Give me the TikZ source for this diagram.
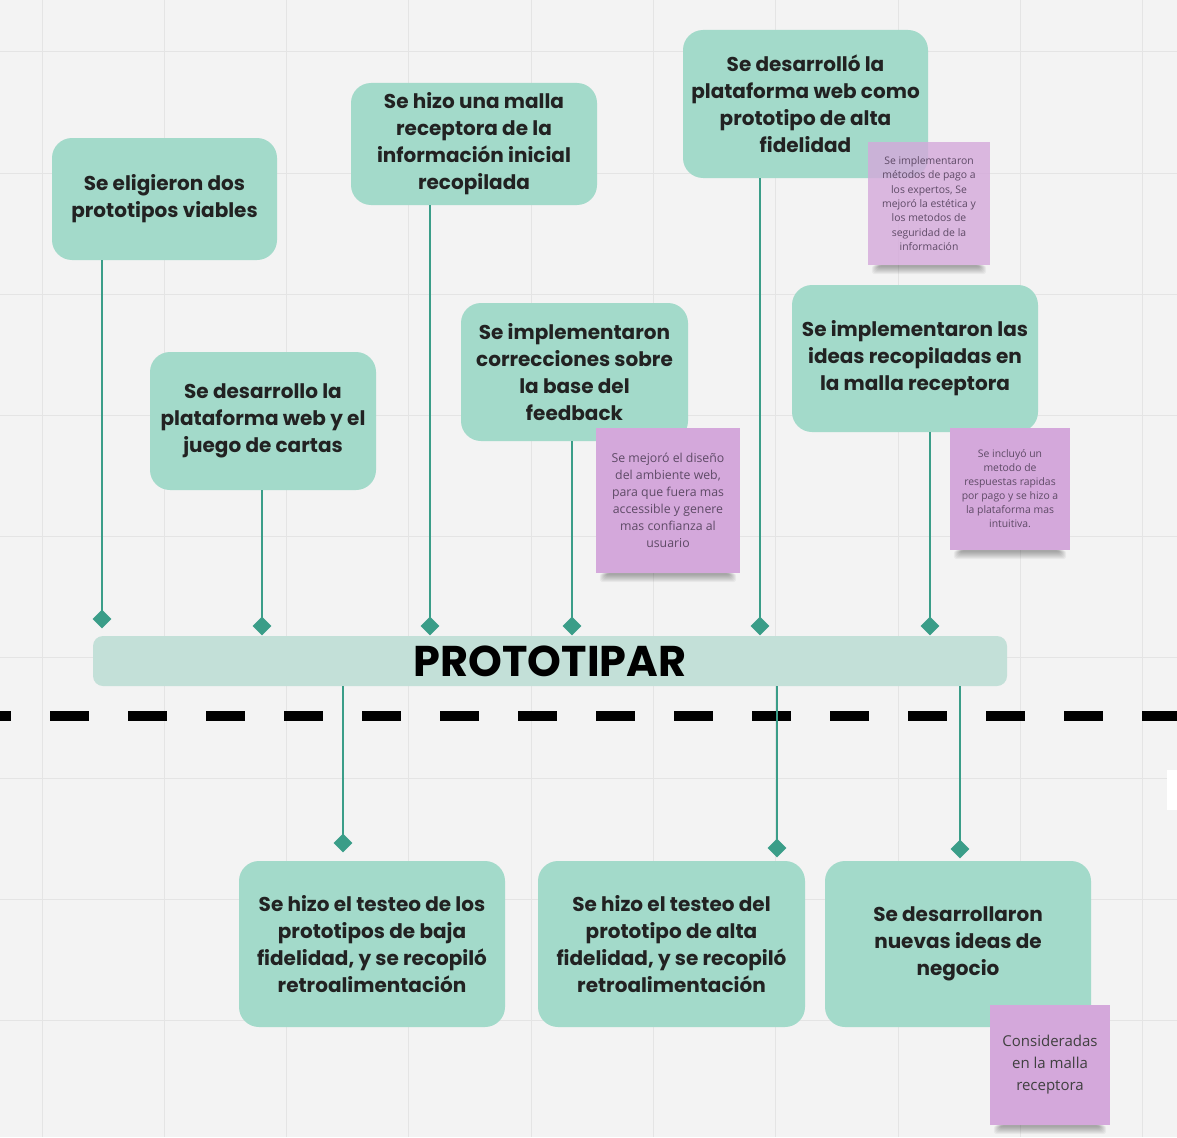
\documentclass[tikz,border=0pt]{standalone}
\usepackage{fontspec}
\setmainfont{Poppins}
\newfontfamily\notefont{Open Sans}
\usetikzlibrary{shapes.geometric}
\pgfdeclarelayer{bglayer}
\pgfdeclarelayer{shadowlayer}
\pgfsetlayers{bglayer,shadowlayer,main}
\definecolor{bgc}{HTML}{F3F3F3}
\definecolor{gridc}{HTML}{E4E4E4}
\definecolor{tealbox}{HTML}{A3DACA}
\definecolor{barc}{HTML}{C3E0D8}
\definecolor{linec}{HTML}{3A9D88}
\definecolor{notec}{HTML}{D4A8DB}
\definecolor{notetext}{HTML}{5E4A66}
\definecolor{boxtext}{HTML}{222222}
\tikzset{
  tbox/.style={fill=tealbox, rounded corners=20pt, align=center, text=boxtext,
    font=\fontsize{20}{27}\selectfont\bfseries, inner sep=0pt},
  note/.style={fill=notec, align=center, text=notetext, inner sep=0pt},
  dia/.style={diamond, fill=linec, minimum width=19pt, minimum height=19pt, inner sep=0pt},
  conn/.style={draw=linec, line width=2pt},
}
\newcommand\mynoteshadow[1]{%
  \begin{pgfonlayer}{shadowlayer}
  \foreach \k in {1,...,8}
    \fill[black, opacity=0.045, rounded corners=3pt]
      ([xshift={(3+\k)*1pt}, yshift=0pt]#1.south west) rectangle
      ([xshift={-(3+\k)*1pt}, yshift={-(10-\k)*1pt}]#1.south east);
  \end{pgfonlayer}}
\begin{document}
\begin{tikzpicture}[x=1pt,y=-1pt]
\useasboundingbox (0,0) rectangle (1177,1137);
\begin{pgfonlayer}{bglayer}
\fill[bgc] (0,0) rectangle (1177,1137);
\foreach \gx in {42,164.3,286.6,408.9,531.2,653.5,775.8,898.1,1020.4,1142.7}
  \draw[gridc, line width=1pt] (\gx,0) -- (\gx,1137);
\foreach \gy in {52,173,294,415,536,657,778,899,1020}
  \draw[gridc, line width=1pt] (0,\gy) -- (1177,\gy);
\fill[white] (1167,770) rectangle (1177,810);
\end{pgfonlayer}

% dashed line
\draw[black, line width=10pt, dash pattern=on 39pt off 39pt, dash phase=28pt] (0,716) -- (1177,716);

% bar
\node[fill=barc, rounded corners=10pt, minimum width=914pt, minimum height=50pt, inner sep=0pt,
  font=\fontsize{43}{44}\selectfont\bfseries, text=black] (bar) at (550,661) {PROTOTIPAR};

% top boxes
\node[tbox, minimum width=225pt, minimum height=122pt] (b1) at (164.5,199) {Se eligieron dos\\prototipos viables};
\node[tbox, minimum width=226pt, minimum height=138pt] (b2) at (263,421) {Se desarrollo la\\plataforma web y el\\juego de cartas};
\node[tbox, minimum width=246pt, minimum height=122pt] (b3) at (474,144) {Se hizo una malla\\receptora de la\\información inicial\\recopilada};
\node[tbox, minimum width=227pt, minimum height=138pt] (b4) at (574.5,372) {Se implementaron\\correcciones sobre\\la base del\\feedback};
\node[tbox, minimum width=245pt, minimum height=148pt] (b5) at (805.5,104) {Se desarrolló la\\plataforma web como\\prototipo de alta\\fidelidad};
\node[tbox, minimum width=246pt, minimum height=147pt] (b6) at (915,358.5) {Se implementaron las\\ideas recopiladas en\\la malla receptora};

% bottom boxes
\node[tbox, minimum width=266pt, minimum height=166pt] (b7) at (372,944) {Se hizo el testeo de los\\prototipos de baja\\fidelidad, y se recopiló\\retroalimentación};
\node[tbox, minimum width=267pt, minimum height=166pt] (b8) at (671.5,944) {Se hizo el testeo del\\prototipo de alta\\fidelidad, y se recopiló\\retroalimentación};
\node[tbox, minimum width=266pt, minimum height=166pt] (b9) at (958,944) {Se desarrollaron\\nuevas ideas de\\negocio};

% diamonds
\node[dia] (d1) at (102,619) {};
\node[dia] (d2) at (262,626) {};
\node[dia] (d3) at (430,626) {};
\node[dia] (d4) at (572,626) {};
\node[dia] (d5) at (760,626) {};
\node[dia] (d6) at (930,626) {};
\node[dia] (d7) at (343,843) {};
\node[dia] (d8) at (777,848) {};
\node[dia] (d9) at (960,849) {};

% connectors
\draw[conn] (b1.south -| d1) -- (d1.center);
\draw[conn] (b2.south -| d2) -- (d2.center);
\draw[conn] (b3.south -| d3) -- (d3.center);
\draw[conn] (b4.south -| d4) -- (d4.center);
\draw[conn] (b5.south -| d5) -- (d5.center);
\draw[conn] (b6.south -| d6) -- (d6.center);
\draw[conn] (bar.south -| d7) -- (d7.center);
\draw[conn] (bar.south -| d8) -- (d8.center);
\draw[conn] (bar.south -| d9) -- (d9.center);

% notes
\node[note, fill opacity=0.8, text opacity=1, minimum width=122pt, minimum height=123pt,
  font=\notefont\fontsize{10.4}{14.3}\selectfont] (n1) at (929,203.5)
  {Se implementaron\\métodos de pago a\\los expertos, Se\\mejoró la estética y\\los metodos de\\seguridad de la\\información};
\mynoteshadow{n1}
\node[note, minimum width=144pt, minimum height=145pt,
  font=\notefont\fontsize{12.3}{17}\selectfont] (n2) at (668,500.5)
  {Se mejoró el diseño\\del ambiente web,\\para que fuera mas\\accessible y genere\\mas confianza al\\usuario};
\mynoteshadow{n2}
\node[note, minimum width=120pt, minimum height=122pt,
  font=\notefont\fontsize{10.4}{14}\selectfont] (n3) at (1010,489)
  {Se incluyó un\\metodo de\\respuestas rapidas\\por pago y se hizo a\\la plataforma mas\\intuitiva.};
\mynoteshadow{n3}
\node[note, minimum width=120pt, minimum height=120pt, text=black!75,
  font=\notefont\fontsize{15}{22}\selectfont] (n4) at (1050,1065)
  {Consideradas\\en la malla\\receptora};
\mynoteshadow{n4}
\end{tikzpicture}
\end{document}
